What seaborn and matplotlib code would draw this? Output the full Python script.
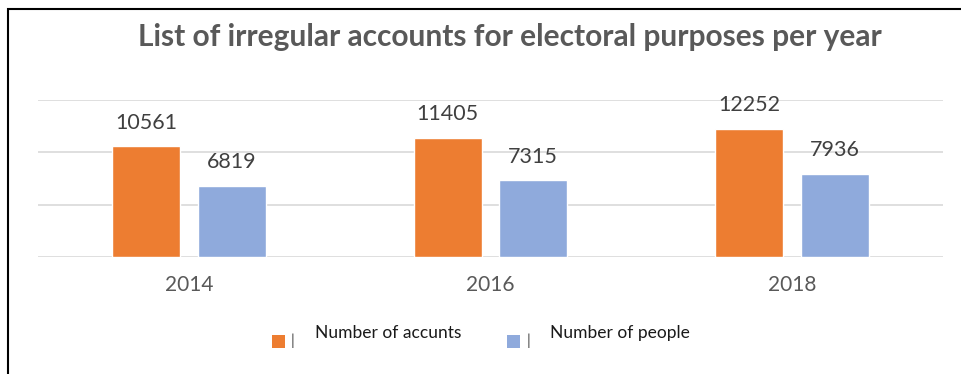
import numpy as np
import pandas as pd
import matplotlib.pyplot as plt
import seaborn as sns
from matplotlib.patches import Rectangle

sns.set_theme(style='white')
plt.rcParams['font.family'] = ['Lato', 'DejaVu Sans']

years = ['2014', '2016', '2018']
series = ['Number of accunts', 'Number of people']
accounts = [10561, 11405, 12252]
people = [6819, 7315, 7936]
colors = ['#ED7D31', '#8FAADC']

df = pd.DataFrame({
    'year': years * 2,
    'series': [series[0]] * 3 + [series[1]] * 3,
    'value': accounts + people,
})

W, H = 961, 374
fig = plt.figure(figsize=(W / 100, H / 100), dpi=100)
ax = fig.add_axes([38 / W, 117 / H, 905 / W, 157 / H])

sns.barplot(data=df, x='year', y='value', hue='series', palette=colors,
            width=0.567, gap=0.205, ax=ax, legend=False, saturation=1)

for cont in ax.containers:
    ax.bar_label(cont, fmt='%d', padding=10, fontsize=15.5, color='#404040')

ax.set_xlim(-0.5, 2.5)
ax.set_ylim(0, 15000)
ax.set_yticks([0, 5000, 10000, 15000])
ax.yaxis.grid(True, color='#D9D9D9', linewidth=1.2)
ax.set_axisbelow(True)
ax.set_yticklabels([])
ax.tick_params(axis='y', length=0)
ax.tick_params(axis='x', length=0, labelsize=15, labelcolor='#595959', pad=13)
ax.set_xlabel('')
ax.set_ylabel('')
for s in ax.spines.values():
    s.set_visible(False)

fig.text(510 / W, 1 - 37 / H, 'List of irregular accounts for electoral purposes per year',
         ha='center', va='center', fontsize=21.5, fontweight='bold', color='#595959')

# legend: swatch, stray bar and label per series
for c, lab, x0 in zip(colors, series, [272, 507]):
    fig.patches.append(Rectangle((x0 / W, 1 - 348 / H), 13 / W, 13 / H,
                                 transform=fig.transFigure, facecolor=c, edgecolor='none'))
    fig.text((x0 + 21) / W, 1 - 341 / H, '|', ha='center', va='center', fontsize=11, color='#404040')
    fig.text((x0 + 43) / W, 1 - 333 / H, lab, ha='left', va='center', fontsize=12.5, color='#1a1a1a')

# outer frame
fig.patches.append(Rectangle((8 / W, -0.1), 1.2, 1 - 9 / H + 0.1, transform=fig.transFigure,
                             fill=False, edgecolor='black', linewidth=1.5))

fig.savefig('out.png', dpi=100)
plt.close(fig)
